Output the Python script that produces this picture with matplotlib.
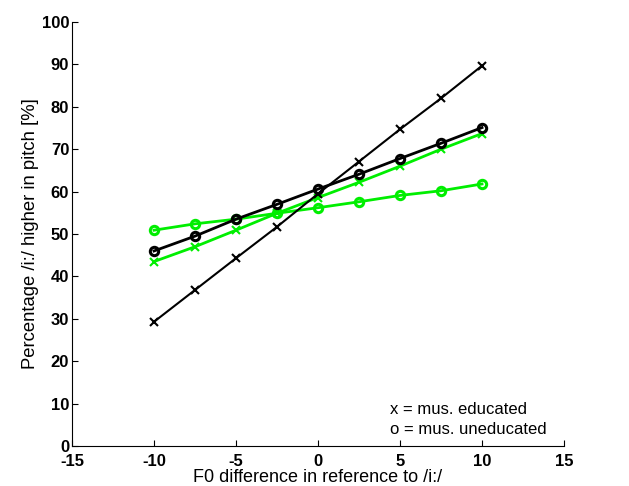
import matplotlib
matplotlib.use('Agg')
import matplotlib.pyplot as plt

plt.rcParams['font.family'] = ['Liberation Sans', 'DejaVu Sans']
plt.rcParams['axes.unicode_minus'] = False

f0_diff = [-10, -7.5, -5, -2.5, 0, 2.5, 5, 7.5, 10]

# black series
black_x = [29.3, 36.8, 44.3, 51.7, 59.5, 67.1, 74.7, 82.0, 89.7]
black_o = [46.0, 49.5, 53.5, 57.0, 60.6, 64.1, 67.8, 71.4, 75.1]
# green series
green_x = [43.5, 47.0, 50.9, 54.9, 58.6, 62.2, 66.0, 70.0, 73.7]
green_o = [50.9, 52.4, 53.5, 54.9, 56.2, 57.6, 59.1, 60.2, 61.8]

xticks = [-15, -10, -5, 0, 5, 10, 15]
yticks = [0, 10, 20, 30, 40, 50, 60, 70, 80, 90, 100]

green = '#00ee00'

fig = plt.figure(figsize=(6.29, 4.86), dpi=100)
ax = fig.add_axes([0.1145, 0.0823, 0.7822, 0.8724])

ax.plot(f0_diff, green_o, color=green, lw=2, marker='o', ms=6, mew=2.2, mfc='none')
ax.plot(f0_diff, green_x, color=green, lw=2, marker='x', ms=6, mew=1.5)
ax.plot(f0_diff, black_o, color='black', lw=2, marker='o', ms=6, mew=2.2, mfc='none')
ax.plot(f0_diff, black_x, color='black', lw=1.5, marker='x', ms=6, mew=1.5)

ax.set_xlim(-15, 15)
ax.set_ylim(0, 100)
ax.set_xticks(xticks)
ax.set_yticks(yticks)
ax.tick_params(direction='in', length=4, labelsize=12)
ax.tick_params(axis='x', pad=5.5)
ax.tick_params(axis='y', pad=2)
for lab in ax.get_xticklabels() + ax.get_yticklabels():
    lab.set_fontweight('bold')
ax.spines['top'].set_visible(False)
ax.spines['right'].set_visible(False)

ax.set_xlabel('F0 difference in reference to /i:/', fontsize=13, labelpad=0)
ax.set_ylabel('Percentage /i:/ higher in pitch [%]', fontsize=13.3, labelpad=2)

ax.text(4.4, 8.7, 'x = mus. educated', fontsize=12, va='center')
ax.text(4.4, 3.8, 'o = mus. uneducated', fontsize=12, va='center')

fig.savefig('out.png', dpi=100)
